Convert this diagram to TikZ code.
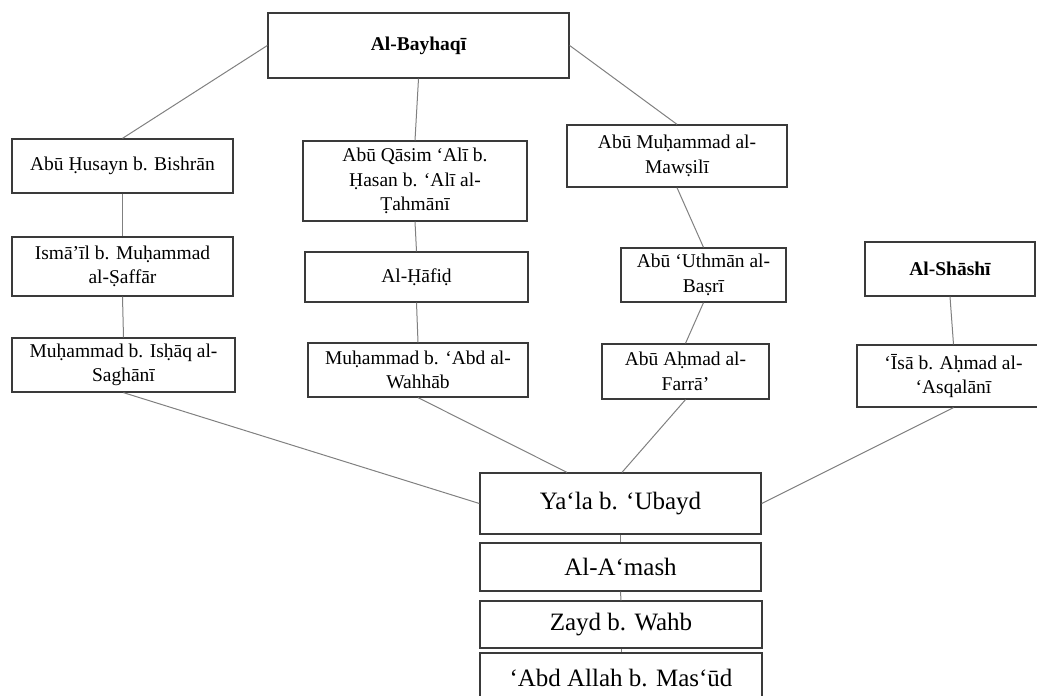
\documentclass[tikz,border=0pt]{standalone}
\usepackage{fontspec}
\setmainfont{Liberation Serif}
\begin{document}
\begin{tikzpicture}[x=1pt,y=-1pt,
  person/.style={draw=boxline,line width=1.3pt,fill=white,inner sep=0pt,align=center,
    font=\fontsize{19.5}{24.5}\selectfont},
  chief/.style={person,font=\fontsize{19.5}{24.5}\selectfont\bfseries},
  chain/.style={person,font=\fontsize{25}{30}\selectfont},
  link/.style={draw=linkgrey,line width=1pt}]
\definecolor{boxline}{HTML}{3A3A3A}
\definecolor{linkgrey}{HTML}{808080}
\useasboundingbox (0,0) rectangle (1037,696);

% compilers
\node[chief,minimum width=301pt,minimum height=65pt] (bay) at (418.5,45.5) {Al-Bayhaqī};
\node[chief,minimum width=170pt,minimum height=54pt] (sha) at (950,269) {Al-Shāshī};

% left chain
\node[person,minimum width=221pt,minimum height=54pt] (hus) at (122.5,166) {Abū Ḥusayn b. Bishrān};
\node[person,minimum width=221pt,minimum height=59pt] (ism) at (122.5,266.5) {Ismā’īl b. Muḥammad\\al-Ṣaffār};
\node[person,minimum width=223pt,minimum height=54pt] (ish) at (123.5,365) {Muḥammad b. Isḥāq al-\\Saghānī};

% middle chain
\node[person,minimum width=224pt,minimum height=80pt] (qas) at (415,181) {Abū Qāsim ‘Alī b.\\Ḥasan b. ‘Alī al-\\Ṭahmānī};
\node[person,minimum width=223pt,minimum height=50pt] (haf) at (416.5,277) {Al-Ḥāfiḍ};
\node[person,minimum width=220pt,minimum height=54pt] (wah) at (418,370) {Muḥammad b. ‘Abd al-\\Wahhāb};

% right chain
\node[person,minimum width=220pt,minimum height=62pt] (maw) at (677,156) {Abū Muḥammad al-\\Mawṣilī};
\node[person,minimum width=165pt,minimum height=54pt] (uth) at (703.5,275) {Abū ‘Uthmān al-\\Baṣrī};
\node[person,minimum width=167pt,minimum height=55pt] (far) at (685.5,371.5) {Abū Aḥmad al-\\Farrā’};

% al-Shashi's chain
\node[person,minimum width=193pt,minimum height=62pt] (isa) at (953.5,376) {‘Īsā b. Aḥmad al-\\‘Asqalānī};

% common chain
\node[chain,minimum width=281pt,minimum height=61pt] (ya) at (620.5,503.5) {Ya‘la b. ‘Ubayd};
\node[chain,minimum width=281pt,minimum height=48pt] (ams) at (620.5,567) {Al-A‘mash};
\node[chain,minimum width=282pt,minimum height=47pt] (zay) at (621,624.5) {Zayd b. Wahb};
\node[chain,minimum width=282pt,minimum height=53pt,text depth=4pt] (abd) at (621,679.5) {‘Abd Allah b. Mas‘ūd};

% connectors
\draw[link] (bay.west) -- (hus.north);
\draw[link] (bay.south) -- (qas.north);
\draw[link] (bay.east) -- (maw.north);
\draw[link] (hus.south) -- (ism.north);
\draw[link] (ism.south) -- (ish.north);
\draw[link] (qas.south) -- (haf.north);
\draw[link] (haf.south) -- (wah.north);
\draw[link] (maw.south) -- (uth.north);
\draw[link] (uth.south) -- (far.north);
\draw[link] (sha.south) -- (isa.north);
\draw[link] (ish.south) -- (ya.west);
\draw[link] (wah.south) -- ([xshift=-53.5pt]ya.north);
\draw[link] (far.south) -- ([xshift=1.5pt]ya.north);
\draw[link] (isa.south) -- (ya.east);
\draw[link] (ya.south) -- (ams.north);
\draw[link] (ams.south) -- (zay.north);
\draw[link] (zay.south) -- (abd.north);
\end{tikzpicture}
\end{document}
